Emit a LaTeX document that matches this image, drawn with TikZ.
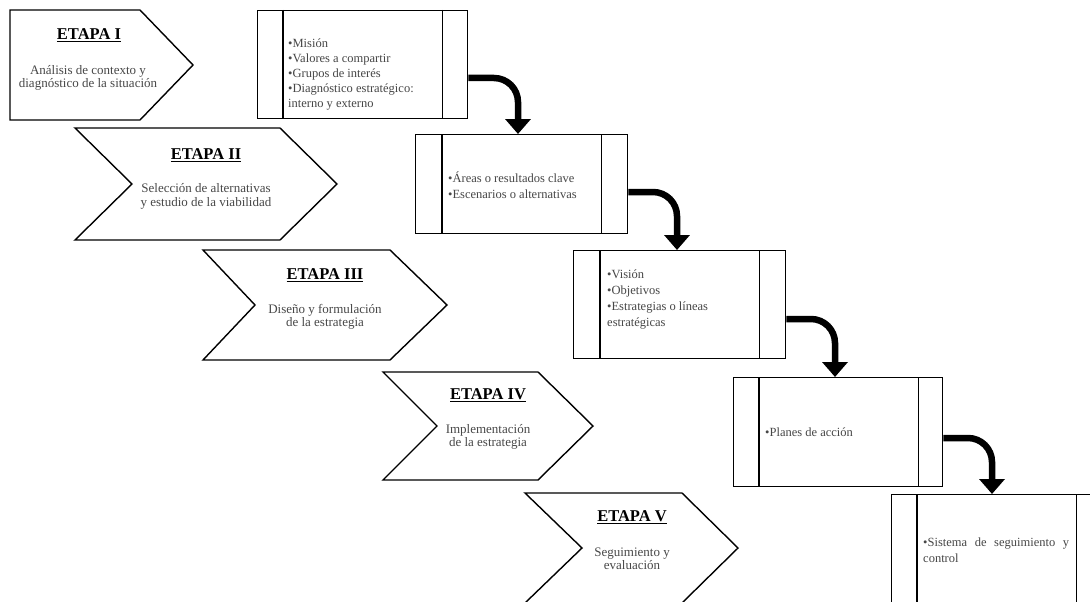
\documentclass[tikz,border=0pt]{standalone}
\usepackage{fontspec}
\setmainfont{Liberation Serif}
\usetikzlibrary{arrows.meta}
\begin{document}
\begin{tikzpicture}[x=1pt,y=-1pt,
  shape line/.style={draw=black, line width=1.4pt, line join=miter},
  stagebox/.style={shape line, fill=white, inner sep=0pt, anchor=north west},
  stage title/.style={font=\fontsize{16.5}{18}\selectfont\bfseries, inner sep=0pt},
  stage text/.style={font=\fontsize{13}{13.3}\selectfont, text=black!72, align=center, inner sep=0pt},
  item text/.style={font=\fontsize{12.5}{16}\selectfont, text=black!72, align=left, inner sep=0pt, anchor=base west},
  flow/.style={line width=6.5pt, rounded corners=24pt, -{Triangle[width=25pt,length=15pt]}},
]
\useasboundingbox (0,0) rectangle (1090,602);
\clip (0,0) rectangle (1090,602);

% ---- stage chevrons ----
\draw[shape line] (10,10) -- (140,10) -- (193,65) -- (140,120) -- (10,120) -- cycle;
\draw[shape line] (75,128) -- (280,128) -- (337,184) -- (280,240) -- (75,240) -- (132,184) -- cycle;
\draw[shape line] (203,250) -- (390,250) -- (447,305) -- (390,360) -- (203,360) -- (255,305) -- cycle;
\draw[shape line] (383,372) -- (538,372) -- (593,426) -- (538,480) -- (383,480) -- (437,426) -- cycle;
\draw[shape line] (525,493) -- (682,493) -- (738,548) -- (682,603) -- (525,603) -- (582,548) -- cycle;

\node[stage title] (t1) at (89,35) {\underline{ETAPA I}};
\node[stage text] (d1) at (88,78) {Análisis de contexto y\\diagnóstico de la situación};
\node[stage title] (t2) at (206,155) {\underline{ETAPA II}};
\node[stage text] (d2) at (206,196.5) {Selección de alternativas\\y estudio de la viabilidad};
\node[stage title] (t3) at (325,275) {\underline{ETAPA III}};
\node[stage text] (d3) at (325,316.5) {Diseño y formulación\\de la estrategia};
\node[stage title] (t4) at (488,395) {\underline{ETAPA IV}};
\node[stage text] (d4) at (488,437) {Implementación\\de la estrategia};
\node[stage title] (t5) at (632,517) {\underline{ETAPA V}};
\node[stage text] (d5) at (632,558.5) {Seguimiento y\\evaluación};

% ---- content boxes with side bars ----
\node[stagebox, minimum width=210pt, minimum height=108pt] (b1) at (257,10) {};
\node[stagebox, minimum width=212pt, minimum height=99pt] (b2) at (415,134) {};
\node[stagebox, minimum width=212pt, minimum height=108pt] (b3) at (573,250) {};
\node[stagebox, minimum width=209pt, minimum height=109pt] (b4) at (733,377) {};
\node[stagebox, minimum width=210pt, minimum height=109pt] (b5) at (891,494) {};

\foreach \b/\l/\r in {b1/26/26, b2/27/27, b3/27/27, b4/26/25, b5/26/26} {
  \draw[shape line] ([xshift=\l pt]\b.north west) -- ([xshift=\l pt]\b.south west);
  \draw[shape line] ([xshift=-\r pt]\b.north east) -- ([xshift=-\r pt]\b.south east);
}

% multi-line item lists sit on the baseline of their last line
\node[item text, font=\fontsize{12.5}{15}\selectfont] (i1) at (288,107)
  {•Misión\\•Valores a compartir\\•Grupos de interés\\•Diagnóstico estratégico:\\interno y externo};
\node[item text] (i2) at (448,198) {•Áreas o resultados clave\\•Escenarios o alternativas};
\node[item text] (i3) at (607,326) {•Visión\\•Objetivos\\•Estrategias o líneas\\estratégicas};
\node[item text] (i4) at (765,436) {•Planes de acción};
\node[item text, text width=146pt, align=justify] (i5) at (923,546)
  {•Sistema de seguimiento y\linebreak control};

% ---- connecting arrows ----
\coordinate (k1) at (518,78);
\coordinate (k2) at (677,192);
\coordinate (k3) at (835,319);
\coordinate (k4) at (992,438);
\draw[flow] (k1 -| b1.east) -| (k1 |- b2.north);
\draw[flow] (k2 -| b2.east) -| (k2 |- b3.north);
\draw[flow] (k3 -| b3.east) -| (k3 |- b4.north);
\draw[flow] (k4 -| b4.east) -| (k4 |- b5.north);
\end{tikzpicture}
\end{document}
